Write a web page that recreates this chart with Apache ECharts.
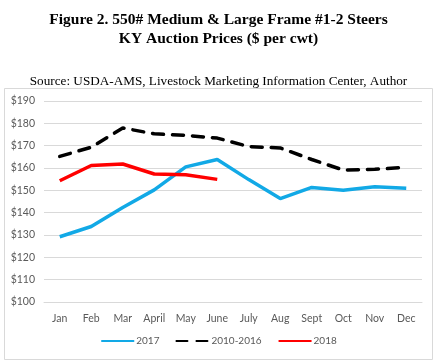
<!DOCTYPE html>
<html><head><meta charset="utf-8">
<script src="https://cdn.jsdelivr.net/npm/echarts@6/dist/echarts.min.js"></script>
<style>html,body{margin:0;padding:0;background:#fff}#c{width:437px;height:362px}</style>
</head><body><div id="c"></div>
<script>
const months = ['Jan','Feb','Mar','April','May','June','July','Aug','Sept','Oct','Nov','Dec'];
const s2017 = [129.2, 133.8, 142.3, 150.2, 160.5, 163.8, 154.8, 146.3, 151.3, 150.0, 151.6, 150.9];
const s2010_2016 = [165.2, 169.3, 177.9, 175.3, 174.6, 173.4, 169.6, 169.0, 163.8, 159.1, 159.4, 160.3];
const s2018 = [154.3, 161.1, 161.8, 157.3, 157.0, 154.9];
const yTicks = [100, 190, 10];
const chart = echarts.init(document.getElementById('c'), null, {renderer: 'canvas'});
const labelFont = 'Lato, "Liberation Sans", sans-serif';
chart.setOption({
  backgroundColor: '#fff',
  animation: false,
  title: [
    {text: 'Figure 2. 550# Medium & Large Frame #1-2 Steers\nKY Auction Prices ($ per cwt)', left: 'center', top: 5,
     textStyle: {fontFamily: '"Liberation Serif", "Times New Roman", serif', fontWeight: 'bold', fontSize: 15.5, color: '#000', lineHeight: 19}},
    {text: 'Source: USDA-AMS, Livestock Marketing Information Center, Author', left: 'center', top: 70,
     textStyle: {fontFamily: '"Liberation Serif", "Times New Roman", serif', fontWeight: 'normal', fontSize: 13.2, color: '#000'}}
  ],
  graphic: [{type: 'rect', shape: {x: 4.5, y: 88.5, width: 428, height: 271}, style: {fill: 'none', stroke: '#d9d9d9', lineWidth: 1}, z: -1}],
  grid: {left: 44, right: 15, top: 101, bottom: 60, containLabel: false},
  legend: {
    bottom: 11, left: 'center', itemWidth: 33, itemHeight: 4, itemGap: 16,
    itemStyle: {opacity: 0},
    textStyle: {fontFamily: labelFont, fontSize: 10, color: '#595959', padding: [0, 0, 0, -3]},
    data: ['2017', '2010-2016', '2018']
  },
  xAxis: {
    type: 'category', data: months, boundaryGap: true,
    axisLine: {show: true, lineStyle: {color: '#d9d9d9'}}, axisTick: {show: false},
    axisLabel: {fontFamily: labelFont, fontSize: 10.5, color: '#595959', margin: 11}
  },
  yAxis: {
    type: 'value', min: yTicks[0], max: yTicks[1], interval: yTicks[2],
    axisLine: {show: false}, axisTick: {show: false},
    splitLine: {lineStyle: {color: '#d9d9d9'}},
    axisLabel: {fontFamily: labelFont, fontSize: 10.5, color: '#595959', formatter: v => '$' + v, margin: 9}
  },
  series: [
    {name: '2017', type: 'line', data: s2017, symbol: 'none', lineStyle: {color: '#12A9E6', width: 3.5}, itemStyle: {color: '#12A9E6'}},
    {name: '2010-2016', type: 'line', data: s2010_2016, symbol: 'none', lineStyle: {color: '#000', width: 3.5, type: [11, 9], cap: 'round'}, itemStyle: {color: '#000'}},
    {name: '2018', type: 'line', data: s2018, symbol: 'none', lineStyle: {color: '#FF0000', width: 3.5}, itemStyle: {color: '#FF0000'}}
  ]
});
</script></body></html>
